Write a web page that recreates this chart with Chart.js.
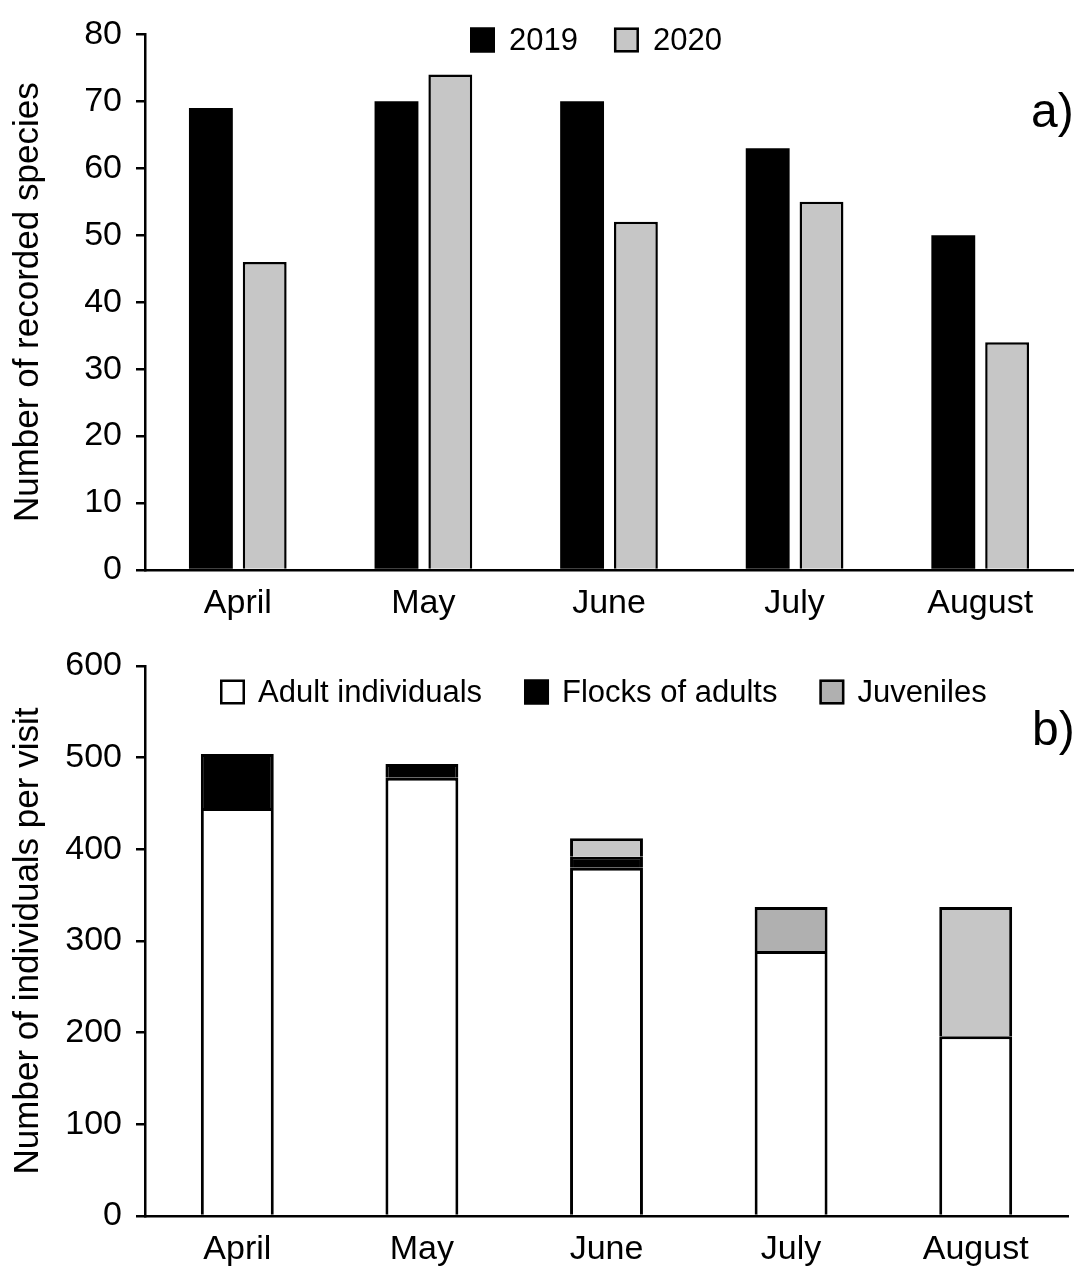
<!DOCTYPE html>
<html>
<head>
<meta charset="utf-8">
<script src="https://cdn.jsdelivr.net/npm/chart.js@4.4.1/dist/chart.umd.min.js"></script>
<style>
    body { margin: 0; background: #fff; }
    canvas { display: block; }
</style>
</head>
<body>
<canvas id="speciesChart" width="1076" height="625"></canvas>
<canvas id="individualsChart" width="1076" height="641"></canvas>
<script>
const months = ['April', 'May', 'June', 'July', 'August'];

// panel a) - recorded species
const years = ['2019', '2020'];
const species2019 = [69, 70, 70, 63, 50];
const species2020 = [46, 74, 52, 55, 34];
const speciesTicks = [0, 10, 20, 30, 40, 50, 60, 70, 80];

// panel b) - individuals per visit
const groupLabels = ['Adult individuals', 'Flocks of adults', 'Juveniles'];
const adults = [445, 478, 380, 289, 196];
const flocks = [59, 15, 12, null, null];
const juveniles = [null, null, 20, 48, 141];
const individualsTicks = [0, 100, 200, 300, 400, 500, 600];

const FONT = "'Liberation Sans', Arial, sans-serif";
Chart.defaults.font.family = FONT;
Chart.defaults.color = '#000';

const grey = '#c6c6c6';
const darkGrey = '#b0b0b0';
const juvenileColors = [grey, grey, grey, darkGrey, grey];

// legend drawn inside the plot, like the original figure
const panelLegend = {
    id: 'panelLegend',
    afterDraw(chart, args, opts) {
        const ctx = chart.ctx;
        ctx.save();
        ctx.font = '31px ' + FONT;
        ctx.textBaseline = 'middle';
        let x = opts.x;
        chart.data.datasets.forEach((ds, i) => {
            ctx.fillStyle = opts.colors[i];
            ctx.fillRect(x, opts.y - 12.5, 25, 25);
            ctx.lineWidth = 2.5;
            ctx.strokeStyle = '#000';
            ctx.strokeRect(x + 1.25, opts.y - 11.25, 22.5, 22.5);
            ctx.fillStyle = '#000';
            ctx.fillText(ds.label, x + 25 + opts.textGap, opts.y + 1);
            x += 25 + opts.textGap + ctx.measureText(ds.label).width + opts.itemGap;
        });
        ctx.restore();
    }
};

const panelTag = {
    id: 'panelTag',
    afterDraw(chart, args, opts) {
        const ctx = chart.ctx;
        ctx.save();
        ctx.font = '48px ' + FONT;
        ctx.fillStyle = '#000';
        ctx.textBaseline = 'alphabetic';
        ctx.fillText(opts.text, opts.x, opts.y);
        ctx.restore();
    }
};

function yScale(title, ticks) {
    return {
        min: ticks[0],
        max: ticks[ticks.length - 1],
        afterBuildTicks: s => { s.ticks = ticks.map(v => ({ value: v })); },
        afterFit: s => { s.width = 145; },
        grid: { drawOnChartArea: false, drawTicks: true, tickLength: 9, color: '#000', lineWidth: 2.5 },
        border: { color: '#000', width: 2.5 },
        ticks: { font: { size: 34 }, padding: 14, color: '#000' },
        title: { display: true, text: title, font: { size: 35 }, padding: { top: 7, bottom: 0 }, color: '#000' }
    };
}

function xScale(height, stacked) {
    return {
        stacked: stacked,
        afterFit: s => { s.height = height; },
        grid: { display: false, drawTicks: false },
        border: { color: '#000', width: 2.5 },
        ticks: { font: { size: 34 }, padding: 13, color: '#000' }
    };
}

new Chart(document.getElementById('speciesChart'), {
    type: 'bar',
    data: {
        labels: months,
        datasets: [{
            label: years[0],
            data: species2019,
            backgroundColor: '#000',
            borderWidth: 0
        }, {
            label: years[1],
            data: species2020,
            backgroundColor: grey,
            borderColor: '#000',
            borderWidth: 2.5,
            borderSkipped: 'start'
        }]
    },
    options: {
        responsive: false,
        animation: false,
        categoryPercentage: 0.58,
        barPercentage: 0.815,
        layout: { padding: { top: 28, right: 3, left: 0, bottom: 0 } },
        plugins: {
            legend: { display: false },
            tooltip: { enabled: false },
            panelLegend: { x: 470, y: 40, textGap: 14, itemGap: 36, colors: ['#000', grey] },
            panelTag: { text: 'a)', x: 1031, y: 127 }
        },
        scales: {
            x: xScale(55, false),
            y: yScale('Number of recorded species', speciesTicks)
        }
    },
    plugins: [panelLegend, panelTag]
});

new Chart(document.getElementById('individualsChart'), {
    type: 'bar',
    data: {
        labels: months,
        datasets: [{
            label: groupLabels[0],
            data: adults,
            backgroundColor: '#fff'
        }, {
            label: groupLabels[1],
            data: flocks,
            backgroundColor: '#000'
        }, {
            label: groupLabels[2],
            data: juveniles,
            backgroundColor: juvenileColors
        }]
    },
    options: {
        responsive: false,
        animation: false,
        categoryPercentage: 0.395,
        barPercentage: 1,
        datasets: {
            bar: { borderColor: '#000', borderWidth: 3, borderSkipped: 'start' }
        },
        layout: { padding: { top: 41, right: 8, left: 0, bottom: 0 } },
        plugins: {
            legend: { display: false },
            tooltip: { enabled: false },
            panelLegend: { x: 220, y: 67, textGap: 13, itemGap: 42, colors: ['#fff', '#000', darkGrey] },
            panelTag: { text: 'b)', x: 1032, y: 120 }
        },
        scales: {
            x: xScale(50, true),
            y: Object.assign(yScale('Number of individuals per visit', individualsTicks), { stacked: true })
        }
    },
    plugins: [panelLegend, panelTag]
});
</script>
</body>
</html>
